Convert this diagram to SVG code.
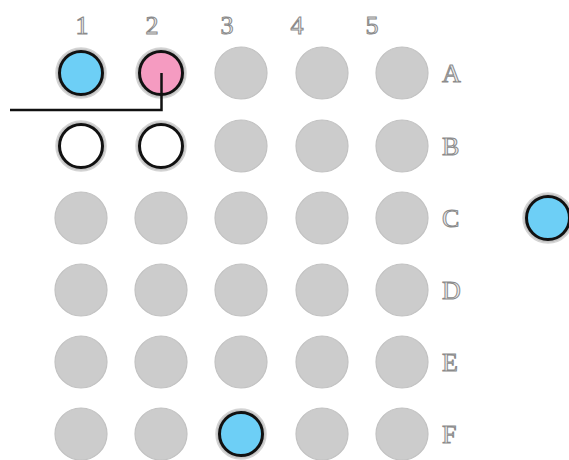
<svg xmlns="http://www.w3.org/2000/svg" width="569" height="460" viewBox="0 0 569 460">
<defs>
<style>
.well{fill:#cccccc;stroke:#c2c2c2;stroke-width:1.2}
.halo{fill:#c4c4c4;stroke:#d4d4d4;stroke-width:1.5}
.ring{stroke:#111;stroke-width:3}
.blue{fill:#6dcff6}
.pink{fill:#f59bc1}
.white{fill:#ffffff}
.lbl{font-family:"Liberation Serif","DejaVu Serif",serif;font-size:26px;fill:#eeeeee;stroke:#8a8a8a;stroke-width:1}
.col{text-anchor:middle}
.wire{fill:none;stroke:#111;stroke-width:2.5}
</style>
</defs>
<rect width="569" height="460" fill="#fff"/>
<g id="labels">
<text class="lbl col" x="82" y="34">1</text>
<text class="lbl col" x="152" y="34">2</text>
<text class="lbl col" x="227" y="34">3</text>
<text class="lbl col" x="297" y="34">4</text>
<text class="lbl col" x="372" y="34">5</text>
<text class="lbl" x="442" y="82">A</text>
<text class="lbl" x="442" y="155">B</text>
<text class="lbl" x="442" y="227">C</text>
<text class="lbl" x="442" y="299">D</text>
<text class="lbl" x="442" y="371">E</text>
<text class="lbl" x="442" y="443">F</text>
</g>
<g id="grid">
<circle class="well" cx="241" cy="73" r="26"/>
<circle class="well" cx="322" cy="73" r="26"/>
<circle class="well" cx="402" cy="73" r="26"/>
<circle class="well" cx="241" cy="146" r="26"/>
<circle class="well" cx="322" cy="146" r="26"/>
<circle class="well" cx="402" cy="146" r="26"/>
<circle class="well" cx="81" cy="218" r="26"/>
<circle class="well" cx="161" cy="218" r="26"/>
<circle class="well" cx="241" cy="218" r="26"/>
<circle class="well" cx="322" cy="218" r="26"/>
<circle class="well" cx="402" cy="218" r="26"/>
<circle class="well" cx="81" cy="290" r="26"/>
<circle class="well" cx="161" cy="290" r="26"/>
<circle class="well" cx="241" cy="290" r="26"/>
<circle class="well" cx="322" cy="290" r="26"/>
<circle class="well" cx="402" cy="290" r="26"/>
<circle class="well" cx="81" cy="362" r="26"/>
<circle class="well" cx="161" cy="362" r="26"/>
<circle class="well" cx="241" cy="362" r="26"/>
<circle class="well" cx="322" cy="362" r="26"/>
<circle class="well" cx="402" cy="362" r="26"/>
<circle class="well" cx="81" cy="434" r="26"/>
<circle class="well" cx="161" cy="434" r="26"/>
<circle class="well" cx="322" cy="434" r="26"/>
<circle class="well" cx="402" cy="434" r="26"/>
</g>
<g id="A1"><circle class="halo" cx="81" cy="73" r="25"/><circle class="ring blue" cx="81" cy="73" r="21.5"/></g>
<g id="A2"><circle class="halo" cx="161" cy="73" r="25"/><circle class="ring pink" cx="161" cy="73" r="21.5"/></g>
<g id="B1"><circle class="halo" cx="81" cy="146" r="25"/><circle class="ring white" cx="81" cy="146" r="21.5"/></g>
<g id="B2"><circle class="halo" cx="161" cy="146" r="25"/><circle class="ring white" cx="161" cy="146" r="21.5"/></g>
<g id="F3"><circle class="halo" cx="241" cy="434" r="25"/><circle class="ring blue" cx="241" cy="434" r="21.5"/></g>
<g id="side"><circle class="halo" cx="548" cy="218" r="25"/><circle class="ring blue" cx="548" cy="218" r="21.5"/></g>
<g id="connectors">
<path class="wire" d="M10,110 H161.5 V73"/>
</g>
</svg>
